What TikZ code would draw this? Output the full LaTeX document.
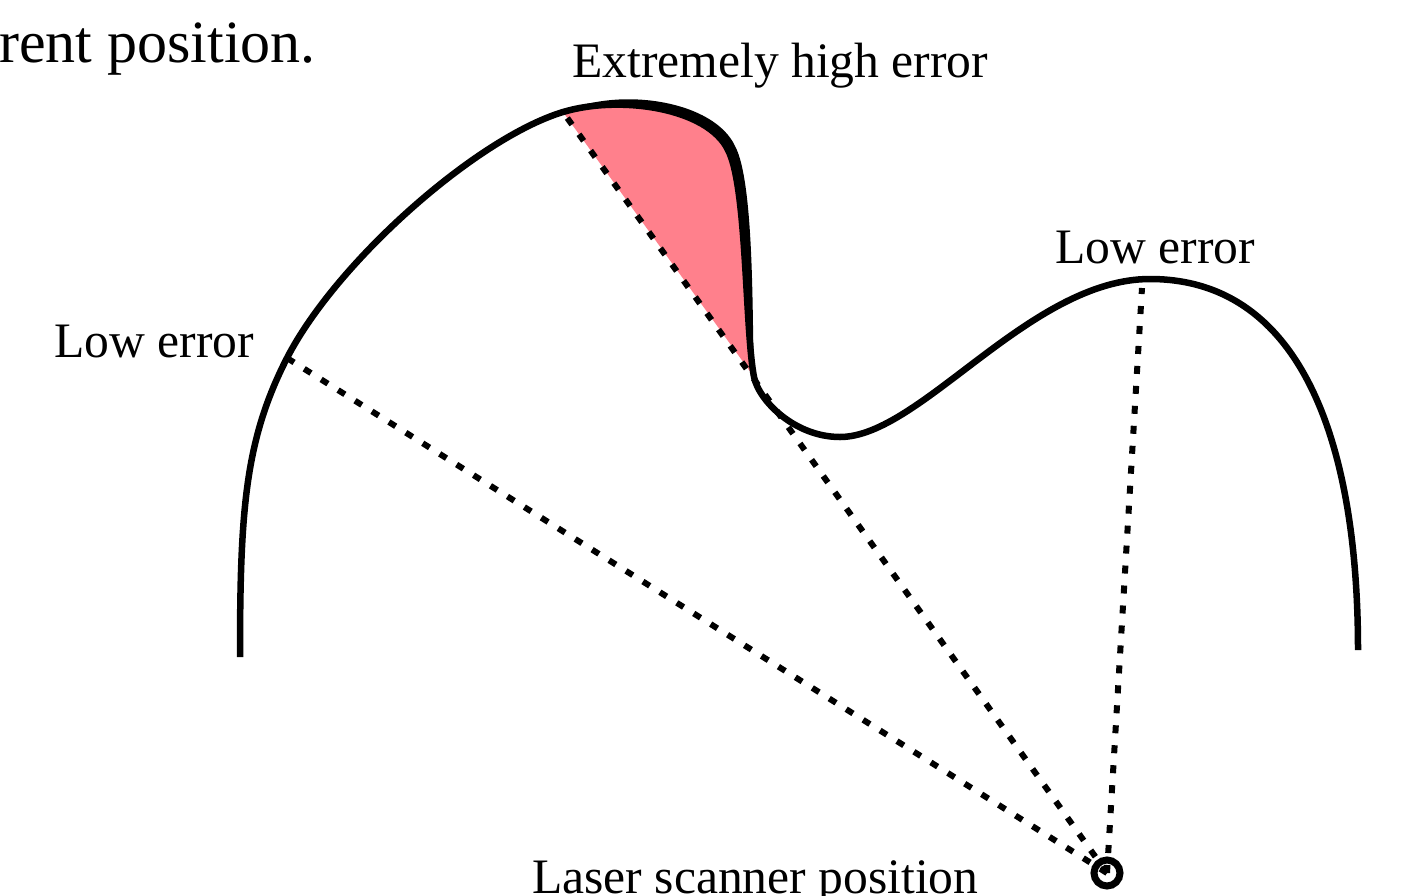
\documentclass[tikz,border=0pt]{standalone}
\usepackage{fontspec}
\setmainfont{Liberation Serif}
\definecolor{errred}{RGB}{255,128,140}

\begin{document}
\begin{tikzpicture}[
    x=1pt, y=-1pt,
    surface/.style={line width=6.5pt, line join=round},
    scanray/.style={line width=6pt, dash pattern=on 8pt off 12pt},
    tag/.style={font=\fontsize{49.6}{58}\selectfont, inner sep=0pt, anchor=base west}
]
\useasboundingbox (0,0) rectangle (1414,895);
\clip (0,0) rectangle (1414,895);

% points on the surface
\coordinate (leftend) at (240,657);
\coordinate (lowL) at (287,358);
\coordinate (edge) at (563,112);
\coordinate (bend) at (728,150);
\coordinate (kink) at (754,377);
\coordinate (valley) at (840,437);
\coordinate (hump) at (1150,279);
\coordinate (rightend) at (1358,650);
\coordinate (lowR) at (1142,288);
\coordinate (scanpos) at (1107,873);

% shadowed part behind the overhang
\fill[errred] (edge) .. controls (620.5,94.8) and (708,108) .. (bend)
    .. controls (747,186) and (745,330) .. (kink) -- cycle;

% rays from the scanner
\draw[scanray] (scanpos) -- (lowL);
\draw[scanray] (scanpos) -- (edge);
\draw[scanray] (scanpos) -- (lowR);

% heavy edge of the overhang
\fill (edge) .. controls (621,86) and (714,101) .. (735,146)
    .. controls (755,183) and (752,329) .. (kink)
    .. controls (745,330) and (747,186) .. (bend)
    .. controls (708,108) and (620.5,94.8) .. (edge) -- cycle;

% the surface
\draw[surface] (leftend) .. controls (240,510) and (245,440) .. (lowL)
    .. controls (337,261) and (477,138) .. (edge)
    .. controls (620.5,94.8) and (708,108) .. (bend)
    .. controls (747,186) and (745,330) .. (kink)
    .. controls (759,401) and (795,437) .. (valley)
    .. controls (920,437) and (1030,279) .. (hump)
    .. controls (1300,279) and (1358,440) .. (rightend);

\node[circle, draw, line width=7pt, minimum size=26pt, inner sep=0pt] (scanner) at (scanpos) {};

\node[tag, font=\fontsize{60}{70}\selectfont] (caption) at (-1,62) {rent position.};
\node[tag] (hightxt) at (572,77) {Extremely high error};
\node[tag] (lowLtxt) at (54,357) {Low error};
\node[tag] (lowRtxt) at (1055,263) {Low error};
\node[tag] (scantxt) at (532,893) {Laser scanner position};
\end{tikzpicture}
\end{document}
